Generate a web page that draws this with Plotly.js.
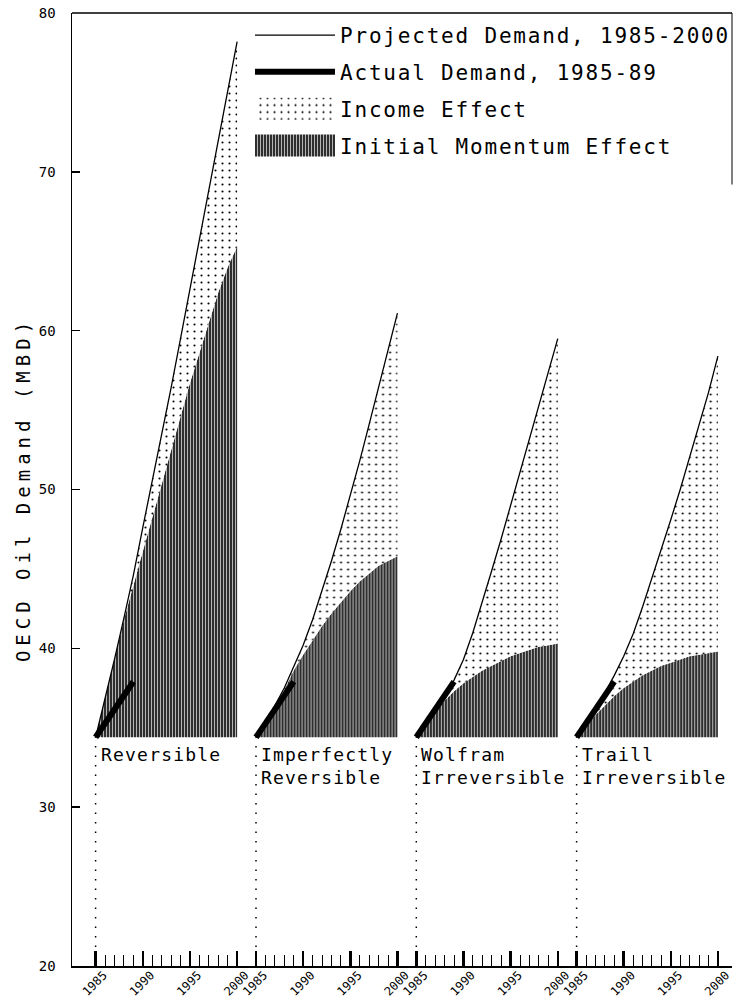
<!DOCTYPE html>
<html>
<head>
<meta charset="utf-8">
<script src="https://cdn.plot.ly/plotly-3.0.1.min.js"></script>
<style>
  html, body { margin: 0; padding: 0; background: #fff; }
  #chart { width: 733px; height: 998px; }
  .legendtext { letter-spacing: 1.8px; }
  .ytitle { letter-spacing: 5px; }
  .annotation-text { letter-spacing: 1.2px; }
  .legendfill path { d: path("M5,-11h80v22h-80z"); stroke: #000; stroke-width: 1.5px; }
</style>
</head>
<body>
<div id="chart"></div>
<script>
// ---------------- data ----------------
const years = [1985, 1986, 1987, 1988, 1989, 1990, 1991, 1992, 1993, 1994, 1995, 1996, 1997, 1998, 1999, 2000];
const baseline = [34.4, 34.4, 34.4, 34.4, 34.4, 34.4, 34.4, 34.4, 34.4, 34.4, 34.4, 34.4, 34.4, 34.4, 34.4, 34.4];

const actualYears = [1985, 1986, 1987, 1988, 1989];
const actualDemand = [34.4, 35.3, 36.2, 37.1, 37.9];

const panelNames = ['Reversible', 'Imperfectly<br>Reversible', 'Wolfram<br>Irreversible', 'Traill<br>Irreversible'];

const projReversible   = [34.4, 36.8, 39.3, 41.9, 44.6, 47.6, 50.5, 53.4, 56.4, 59.5, 62.6, 65.7, 68.9, 72.1, 75.2, 78.2];
const momReversible    = [34.4, 36.8, 39.3, 41.8, 44.0, 46.1, 48.2, 50.3, 52.4, 54.6, 56.7, 58.6, 60.5, 62.4, 64.0, 65.3];

const projImperfect    = [34.4, 35.4, 36.4, 37.5, 38.8, 40.2, 41.8, 43.6, 45.5, 47.5, 49.6, 51.8, 54.1, 56.4, 58.7, 61.1];
const momImperfect     = [34.4, 35.3, 36.3, 37.4, 38.6, 39.6, 40.5, 41.4, 42.2, 42.9, 43.6, 44.2, 44.7, 45.2, 45.5, 45.8];

const projWolfram      = [34.4, 35.2, 36.1, 37.0, 38.0, 39.3, 41.0, 42.9, 44.9, 46.9, 49.0, 51.1, 53.2, 55.3, 57.4, 59.5];
const momWolfram       = [34.4, 35.2, 36.0, 36.7, 37.3, 37.8, 38.2, 38.6, 38.9, 39.2, 39.5, 39.7, 39.9, 40.1, 40.2, 40.3];

const projTraill       = [34.4, 35.2, 36.1, 37.2, 38.3, 39.5, 40.9, 42.6, 44.4, 46.2, 48.1, 50.0, 52.0, 54.0, 56.1, 58.4];
const momTraill        = [34.4, 35.1, 35.8, 36.4, 37.0, 37.5, 37.9, 38.3, 38.6, 38.9, 39.1, 39.3, 39.5, 39.6, 39.7, 39.8];

const projected = [projReversible, projImperfect, projWolfram, projTraill];
const momentum  = [momReversible, momImperfect, momWolfram, momTraill];

const majorTickYears = [1985, 1990, 1995, 2000];
const majorTickText  = ['1985', '1990', '1995', '2000'];
const minorTickYears = [1986, 1987, 1988, 1989, 1991, 1992, 1993, 1994, 1996, 1997, 1998, 1999];
const dropLineY = [20, 34.4];
const yTicks = [20, 30, 40, 50, 60, 70, 80];

const seriesNames = ['Projected Demand, 1985-2000', 'Actual Demand, 1985-89', 'Income Effect', 'Initial Momentum Effect'];

// ---------------- layout helpers ----------------
const MONO = 'DejaVu Sans Mono, Liberation Mono, monospace';
const domains = [[0, 0.2645], [0.2645, 0.5074], [0.5074, 0.7503], [0.7503, 1]];
const ranges  = [[1982.5, 2001], [1984, 2001], [1984, 2001], [1984, 2001.5]];

const traces = [];
const annotations = [];
const layout = {
  width: 733, height: 998,
  margin: {l: 72, r: 1, t: 13, b: 32, autoexpand: false},
  paper_bgcolor: '#fff', plot_bgcolor: '#fff',
  font: {family: MONO, color: '#000'},
  showlegend: true,
  legend: {
    x: 0.2697, y: 0.998, xanchor: 'left', yanchor: 'top',
    font: {family: MONO, size: 21, color: '#000'},
    bgcolor: 'rgba(0,0,0,0)', itemwidth: 80, tracegroupgap: 6.5,
    traceorder: 'grouped'
  },
  yaxis: {
    range: [20, 80], tickmode: 'array', tickvals: yTicks,
    ticks: 'inside', ticklen: 8, tickwidth: 1.5, tickcolor: '#000',
    showline: true, linecolor: '#000', linewidth: 1.5,
    showgrid: false, zeroline: false, ticklabelstandoff: 12,
    tickfont: {family: MONO, size: 14, color: '#000'},
    automargin: true,
    title: {text: 'OECD Oil Demand (MBD)', standoff: 3, font: {family: MONO, size: 19, color: '#000'}},
    fixedrange: true
  },
  shapes: [
    {type: 'line', xref: 'paper', yref: 'paper', x0: 0, x1: 1, y0: 1, y1: 1, line: {color: '#000', width: 1.5}},
    {type: 'line', xref: 'paper', yref: 'paper', x0: 1, x1: 1, y0: 1, y1: 0.82, line: {color: '#000', width: 1}}
  ],
  annotations: annotations
};

for (let k = 0; k < 4; k++) {
  const xa = k === 0 ? 'x' : 'x' + (k + 1);
  const xKey = k === 0 ? 'xaxis' : 'xaxis' + (k + 1);
  layout[xKey] = {
    domain: domains[k], range: ranges[k], anchor: 'y',
    showline: true, linecolor: '#000', linewidth: 1.5,
    showgrid: false, zeroline: false,
    tickmode: 'array', tickvals: majorTickYears, ticktext: majorTickText,
    ticks: 'inside', ticklen: 15, tickwidth: 2.5, tickcolor: '#000',
    tickangle: -45, ticklabelshift: 8, ticklabelstandoff: -4,
    ticklabeloverflow: 'allow',
    tickfont: {family: MONO, size: 12, color: '#000'},
    minor: {tickmode: 'array', tickvals: minorTickYears, ticks: 'inside', ticklen: 11, tickwidth: 1, tickcolor: '#000'},
    automargin: false,
    fixedrange: true
  };
  const first = k === 0;
  // baseline (invisible) for fills
  traces.push({x: years, y: baseline, xaxis: xa, yaxis: 'y', mode: 'lines',
    line: {width: 0, color: 'rgba(0,0,0,0)'}, showlegend: false, hoverinfo: 'skip'});
  // initial momentum effect
  traces.push({x: years, y: momentum[k], xaxis: xa, yaxis: 'y', mode: 'lines',
    name: seriesNames[3], legendgroup: 'mom', legendrank: 4, showlegend: first,
    line: {width: 0, color: '#000'}, fill: 'tonexty', fillcolor: '#444',
    fillpattern: {shape: '|', bgcolor: '#2e2e2e', fgcolor: '#c4c4c4', size: 3, solidity: 0.3}});
  // income effect
  traces.push({x: years, y: projected[k], xaxis: xa, yaxis: 'y', mode: 'lines',
    name: seriesNames[2], legendgroup: 'inc', legendrank: 3, showlegend: first,
    line: {width: 0, color: '#000'}, fill: 'tonexty', fillcolor: '#fff',
    fillpattern: {shape: '.', bgcolor: '#fff', fgcolor: '#000', size: 7, solidity: 0.07}});
  // projected demand
  traces.push({x: years, y: projected[k], xaxis: xa, yaxis: 'y', mode: 'lines',
    name: seriesNames[0], legendgroup: 'proj', legendrank: 1, showlegend: first,
    line: {width: 1.3, color: '#000'}});
  // actual demand
  traces.push({x: actualYears, y: actualDemand, xaxis: xa, yaxis: 'y', mode: 'lines',
    name: seriesNames[1], legendgroup: 'act', legendrank: 2, showlegend: first,
    line: {width: 6, color: '#000'}});
  // dotted drop line at 1985
  traces.push({x: [majorTickYears[0], majorTickYears[0]], y: dropLineY, xaxis: xa, yaxis: 'y', mode: 'lines',
    showlegend: false, hoverinfo: 'skip', line: {width: 1.5, color: '#000', dash: '1.5px,8px'}});
  annotations.push({
    xref: xa, yref: 'y', x: majorTickYears[0], y: dropLineY[1],
    xanchor: 'left', yanchor: 'top', xshift: 3, yshift: -5,
    text: panelNames[k], showarrow: false, align: 'left',
    font: {family: MONO, size: 18, color: '#000'}
  });
}

Plotly.newPlot('chart', traces, layout, {staticPlot: true, displayModeBar: false});
</script>
</body>
</html>
